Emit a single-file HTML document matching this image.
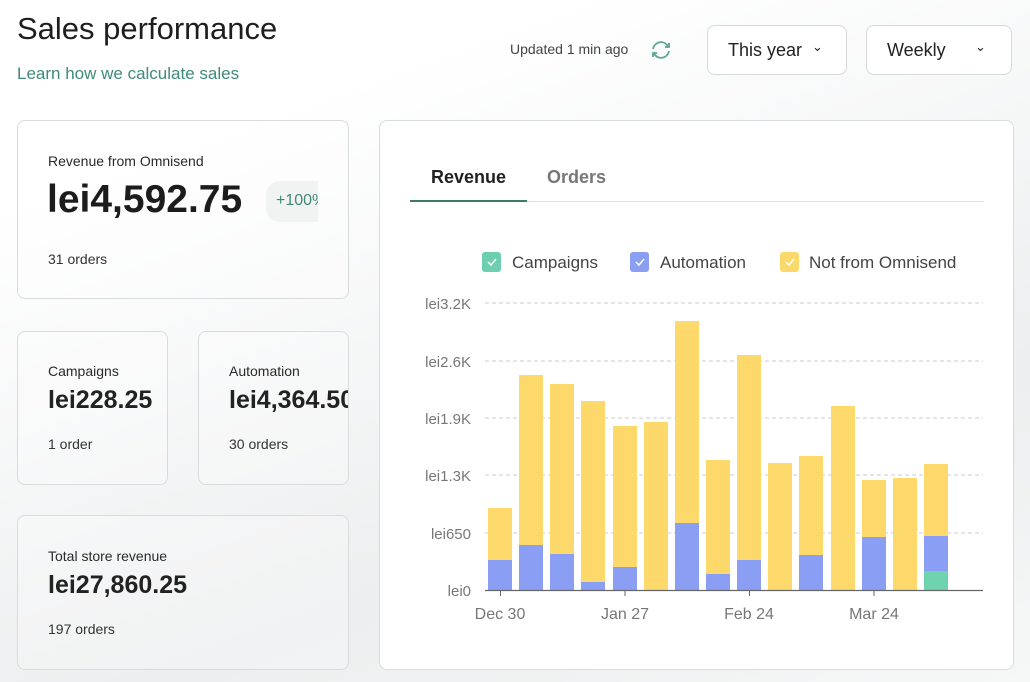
<!DOCTYPE html>
<html><head><meta charset="utf-8"><style>
*{margin:0;padding:0;box-sizing:border-box}
body{width:1030px;height:682px;overflow:hidden;font-family:"Liberation Sans",sans-serif;color:#222;background:linear-gradient(160deg,#fff 0%,#fff 20%,#eceeef 70%,#f6f7f7 100%);position:relative}
.a{position:absolute;white-space:nowrap}
.card{position:absolute;border:1px solid #d9dcdd;border-radius:8px;background:rgba(255,255,255,0.25);overflow:hidden}
.lbl{font-size:14px;color:#2a2a2a}
.sub{font-size:14px;color:#333}
.btn{position:absolute;border:1px solid #d6d8d9;border-radius:8px;background:#fff;font-size:18px;color:#222}
</style></head><body>
<div class="a" style="left:17px;top:11px;font-size:31px;color:#1e1e1e">Sales performance</div>
<div class="a" style="left:17px;top:64px;font-size:17px;color:#3f8a78">Learn how we calculate sales</div>
<div class="a" style="left:510px;top:41px;font-size:14px;color:#444">Updated 1 min ago</div>
<svg class="a" style="left:649px;top:38px" width="24" height="24" viewBox="0 0 24 24" fill="none" stroke="#5aa593" stroke-width="1.8"><path d="M4 11a8 8 0 0 1 14-4l2 2"/><path d="M20 5v4h-4"/><path d="M20 13a8 8 0 0 1-14 4l-2-2"/><path d="M4 19v-4h4"/></svg>
<div class="btn" style="left:707px;top:25px;width:140px;height:50px"><span class="a" style="left:20px;top:14px">This year</span><span class="a" style="left:104px;top:13px;font-size:13px">&#8964;</span></div>
<div class="btn" style="left:866px;top:25px;width:146px;height:50px"><span class="a" style="left:20px;top:14px">Weekly</span><span class="a" style="left:108px;top:13px;font-size:13px">&#8964;</span></div>

<div class="card" style="left:17px;top:120px;width:332px;height:179px">
<div class="a lbl" style="left:30px;top:32px">Revenue from Omnisend</div>
<div class="a" style="left:29px;top:57px;font-size:39px;font-weight:600;color:#1c1c1c">lei4,592.75</div>
<div class="a" style="left:248px;top:60px;width:52px;height:41px;overflow:hidden"><div class="a" style="left:0;top:0;width:70px;height:41px;border-radius:14px;background:#f1f2f2;font-size:16px;color:#3f8a78;padding:11px 0 0 10px">+100%</div></div>
<div class="a sub" style="left:30px;top:130px">31 orders</div>
</div>
<div class="card" style="left:17px;top:331px;width:151px;height:154px">
<div class="a lbl" style="left:30px;top:31px">Campaigns</div>
<div class="a" style="left:30px;top:54px;font-size:25px;font-weight:600">lei228.25</div>
<div class="a sub" style="left:30px;top:104px">1 order</div>
</div>
<div class="card" style="left:198px;top:331px;width:151px;height:154px">
<div class="a lbl" style="left:30px;top:31px">Automation</div>
<div class="a" style="left:30px;top:54px;font-size:25px;font-weight:600">lei4,364.50</div>
<div class="a sub" style="left:30px;top:104px">30 orders</div>
</div>
<div class="card" style="left:17px;top:515px;width:332px;height:155px">
<div class="a lbl" style="left:30px;top:32px">Total store revenue</div>
<div class="a" style="left:30px;top:55px;font-size:25px;font-weight:600">lei27,860.25</div>
<div class="a sub" style="left:30px;top:105px">197 orders</div>
</div>

<div class="card" style="left:379px;top:120px;width:635px;height:550px;background:#fff">
<div class="a" style="left:51px;top:46px;font-size:18px;font-weight:600;color:#222">Revenue</div>
<div class="a" style="left:167px;top:46px;font-size:18px;font-weight:600;color:#777">Orders</div>
<div class="a" style="left:30px;top:80px;width:574px;height:1px;background:#ddd"></div>
<div class="a" style="left:30px;top:79px;width:117px;height:2px;background:#3f7a68"></div>
</div>
<svg class="a" style="left:0;top:0" width="1030" height="682">
<g font-family="Liberation Sans,sans-serif" font-size="17" fill="#444">
<rect x="482" y="252" width="19" height="20" rx="3" fill="#6ecfb0"/><text x="512" y="268">Campaigns</text>
<rect x="630" y="252" width="19" height="20" rx="3" fill="#8a9ef2"/><text x="660" y="268">Automation</text>
<rect x="780" y="252" width="19" height="20" rx="3" fill="#fbd86a"/><text x="809" y="268">Not from Omnisend</text>
<g stroke="#fff" stroke-width="1.5" fill="none"><path d="M488 262l3 3 5-6"/><path d="M636 262l3 3 5-6"/><path d="M786 262l3 3 5-6"/></g>
</g>
<g stroke="#ccc" stroke-dasharray="4 3" stroke-width="1">
<line x1="485" y1="303" x2="983" y2="303"/><line x1="485" y1="361" x2="983" y2="361"/><line x1="485" y1="418" x2="983" y2="418"/><line x1="485" y1="475" x2="983" y2="475"/><line x1="485" y1="533" x2="983" y2="533"/>
</g>
<g font-family="Liberation Sans,sans-serif" font-size="15" fill="#777" text-anchor="end">
<text x="471" y="309">lei3.2K</text><text x="471" y="367">lei2.6K</text><text x="471" y="424">lei1.9K</text><text x="471" y="481">lei1.3K</text><text x="471" y="539">lei650</text><text x="471" y="596">lei0</text>
</g>
<g fill="#fdd96b">
<rect x="488" y="508" width="24" height="82"/><rect x="519" y="375" width="24" height="215"/><rect x="550" y="384" width="24" height="206"/><rect x="581" y="401" width="24" height="189"/><rect x="613" y="426" width="24" height="164"/><rect x="644" y="422" width="24" height="168"/><rect x="675" y="321" width="24" height="269"/><rect x="706" y="460" width="24" height="130"/><rect x="737" y="355" width="24" height="235"/><rect x="768" y="463" width="24" height="127"/><rect x="799" y="456" width="24" height="134"/><rect x="831" y="406" width="24" height="184"/><rect x="862" y="480" width="24" height="110"/><rect x="893" y="478" width="24" height="112"/><rect x="924" y="464" width="24" height="126"/>
</g>
<g fill="#8a9ff4">
<rect x="488" y="560" width="24" height="30"/><rect x="519" y="545" width="24" height="45"/><rect x="550" y="554" width="24" height="36"/><rect x="581" y="582" width="24" height="8"/><rect x="613" y="567" width="24" height="23"/><rect x="675" y="523" width="24" height="67"/><rect x="706" y="574" width="24" height="16"/><rect x="737" y="560" width="24" height="30"/><rect x="799" y="555" width="24" height="35"/><rect x="862" y="537" width="24" height="53"/><rect x="924" y="536" width="24" height="54"/>
</g>
<rect x="924" y="571" width="24" height="19" fill="#6fd3b0"/>
<line x1="485" y1="590.5" x2="983" y2="590.5" stroke="#666" stroke-width="1.2"/>
<g stroke="#666"><line x1="500.5" y1="590" x2="500.5" y2="596"/><line x1="625" y1="590" x2="625" y2="596"/><line x1="749.5" y1="590" x2="749.5" y2="596"/><line x1="874" y1="590" x2="874" y2="596"/></g>
<g font-family="Liberation Sans,sans-serif" font-size="16" fill="#777" text-anchor="middle">
<text x="500" y="619">Dec 30</text><text x="625" y="619">Jan 27</text><text x="749" y="619">Feb 24</text><text x="874" y="619">Mar 24</text>
</g>
</svg>
</body></html>
